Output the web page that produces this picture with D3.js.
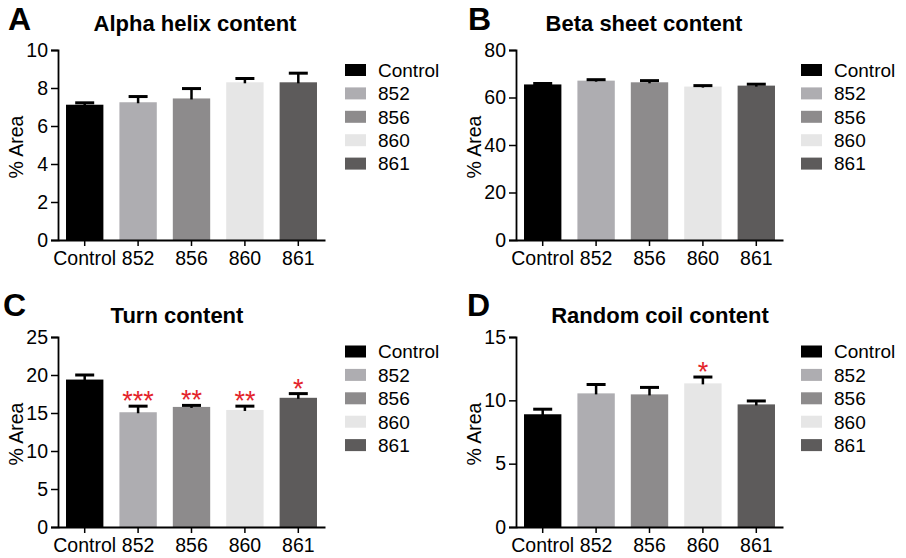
<!DOCTYPE html>
<html><head><meta charset="utf-8">
<script src="https://cdn.jsdelivr.net/npm/d3@7"></script>
<style>body{margin:0;background:#fff}svg{display:block;font-family:Arial,"Liberation Sans",Helvetica,sans-serif}</style>
</head><body>
<svg id="chart" width="906" height="558"></svg>
<script>
const categories = ["Control", "852", "856", "860", "861"];
const barColors = ["#000000", "#aeadb1", "#8d8b8c", "#e6e6e6", "#5d5b5b"];

const alphaMean = [7.12, 7.25, 7.45, 8.3, 8.3];
const alphaErr  = [0.1, 0.3, 0.52, 0.2, 0.48];
const alphaTicks = [0, 2, 4, 6, 8, 10];

const betaMean = [65.5, 67.1, 66.4, 64.6, 65.0];
const betaErr  = [0.4, 0.4, 0.7, 0.4, 0.6];
const betaTicks = [0, 20, 40, 60, 80];

const turnMean = [19.4, 15.1, 15.8, 15.4, 17.0];
const turnErr  = [0.6, 0.8, 0.2, 0.5, 0.55];
const turnTicks = [0, 5, 10, 15, 20, 25];
const turnStars = ["", "***", "**", "**", "*"];

const coilMean = [8.9, 10.55, 10.47, 11.34, 9.68];
const coilErr  = [0.4, 0.7, 0.55, 0.5, 0.27];
const coilTicks = [0, 5, 10, 15];
const coilStars = ["", "", "", "*", ""];

const panels = [
  {letter:"A", title:"Alpha helix content", mean:alphaMean, err:alphaErr, ticks:alphaTicks, stars:null,
   x0:58, x1:325, yTop:50, yBot:240, titleX:195, titleY:31, letterX:8, letterY:30, legX:345, legY:64},
  {letter:"B", title:"Beta sheet content", mean:betaMean, err:betaErr, ticks:betaTicks, stars:null,
   x0:516, x1:783, yTop:50, yBot:240, titleX:644, titleY:31, letterX:468, letterY:30, legX:801, legY:64},
  {letter:"C", title:"Turn content", mean:turnMean, err:turnErr, ticks:turnTicks, stars:turnStars,
   x0:58, x1:325, yTop:337, yBot:527, titleX:177, titleY:323, letterX:3, letterY:316, legX:345, legY:345.5},
  {letter:"D", title:"Random coil content", mean:coilMean, err:coilErr, ticks:coilTicks, stars:coilStars,
   x0:516, x1:783, yTop:337, yBot:527, titleX:660, titleY:323, letterX:467, letterY:316, legX:801, legY:345.5}
];

const svg = d3.select("#chart");

panels.forEach(p => {
  const g = svg.append("g");
  const x = d3.scaleBand().domain(categories).range([p.x0, p.x1]).paddingInner(0.3).paddingOuter(0.15);
  const y = d3.scaleLinear().domain([0, d3.max(p.ticks)]).range([p.yBot, p.yTop]);

  g.selectAll("rect.bar").data(categories).join("rect")
    .attr("class","bar")
    .attr("x", d => x(d)).attr("width", x.bandwidth())
    .attr("y", (d,i) => y(p.mean[i]))
    .attr("height", (d,i) => y(0) - y(p.mean[i]))
    .attr("fill", (d,i) => barColors[i]);

  const capW = 19;
  g.selectAll("line.stem").data(categories).join("line")
    .attr("x1", d => x(d) + x.bandwidth()/2).attr("x2", d => x(d) + x.bandwidth()/2)
    .attr("y1", (d,i) => y(p.mean[i]) + 1).attr("y2", (d,i) => y(p.mean[i] + p.err[i]))
    .attr("stroke", "#000").attr("stroke-width", 2.5);
  g.selectAll("line.cap").data(categories).join("line")
    .attr("x1", d => x(d) + x.bandwidth()/2 - capW/2).attr("x2", d => x(d) + x.bandwidth()/2 + capW/2)
    .attr("y1", (d,i) => y(p.mean[i] + p.err[i])).attr("y2", (d,i) => y(p.mean[i] + p.err[i]))
    .attr("stroke", "#000").attr("stroke-width", 3);

  if (p.stars) {
    g.selectAll("text.star").data(categories).join("text")
      .attr("x", d => x(d) + x.bandwidth()/2)
      .attr("y", (d,i) => y(p.mean[i] + p.err[i]) + 4)
      .attr("text-anchor", "middle")
      .attr("font-size", 27).attr("fill", "#e3242b")
      .text((d,i) => p.stars[i]);
  }

  const yAxis = d3.axisLeft(y).tickValues(p.ticks).tickSize(7).tickPadding(3).tickFormat(d3.format("d"));
  const ya = g.append("g").attr("transform", `translate(${p.x0},0)`).call(yAxis);
  ya.select(".domain").attr("stroke", "#000").attr("stroke-width", 1.8);
  ya.selectAll(".tick line").attr("stroke", "#000").attr("stroke-width", 1.5);
  ya.selectAll(".tick text").attr("font-size", 19.5).attr("fill", "#000").attr("font-family", "Arial, 'Liberation Sans', sans-serif");

  const xAxis = d3.axisBottom(x).tickSize(6).tickPadding(5).tickSizeOuter(0);
  const xa = g.append("g").attr("transform", `translate(0,${p.yBot})`).call(xAxis);
  xa.select(".domain").attr("stroke", "#000").attr("stroke-width", 1.8);
  xa.selectAll(".tick line").attr("stroke", "#000").attr("stroke-width", 1.5);
  xa.selectAll(".tick text").attr("font-size", 19.5).attr("fill", "#000").attr("font-family", "Arial, 'Liberation Sans', sans-serif");

  g.append("text")
    .attr("transform", `translate(${p.x0 - 35},${(p.yTop + p.yBot)/2 + 2}) rotate(-90)`)
    .attr("text-anchor", "middle").attr("font-size", 19.5).attr("fill", "#000")
    .text("% Area");

  g.append("text").attr("x", p.titleX).attr("y", p.titleY)
    .attr("text-anchor", "middle").attr("font-size", 22).attr("font-weight", "bold").attr("fill", "#000")
    .text(p.title);

  g.append("text").attr("x", p.letterX).attr("y", p.letterY)
    .attr("font-size", 32).attr("font-weight", "bold").attr("fill", "#000")
    .text(p.letter);

  const leg = g.append("g");
  categories.forEach((c, i) => {
    const ly = p.legY + i * 23.4;
    leg.append("rect").attr("x", p.legX).attr("y", ly).attr("width", 21).attr("height", 12)
      .attr("fill", barColors[i]);
    leg.append("text").attr("x", p.legX + 33).attr("y", ly + 12.8)
      .attr("font-size", 19).attr("fill", "#000").text(c);
  });
});
</script>
</body></html>
